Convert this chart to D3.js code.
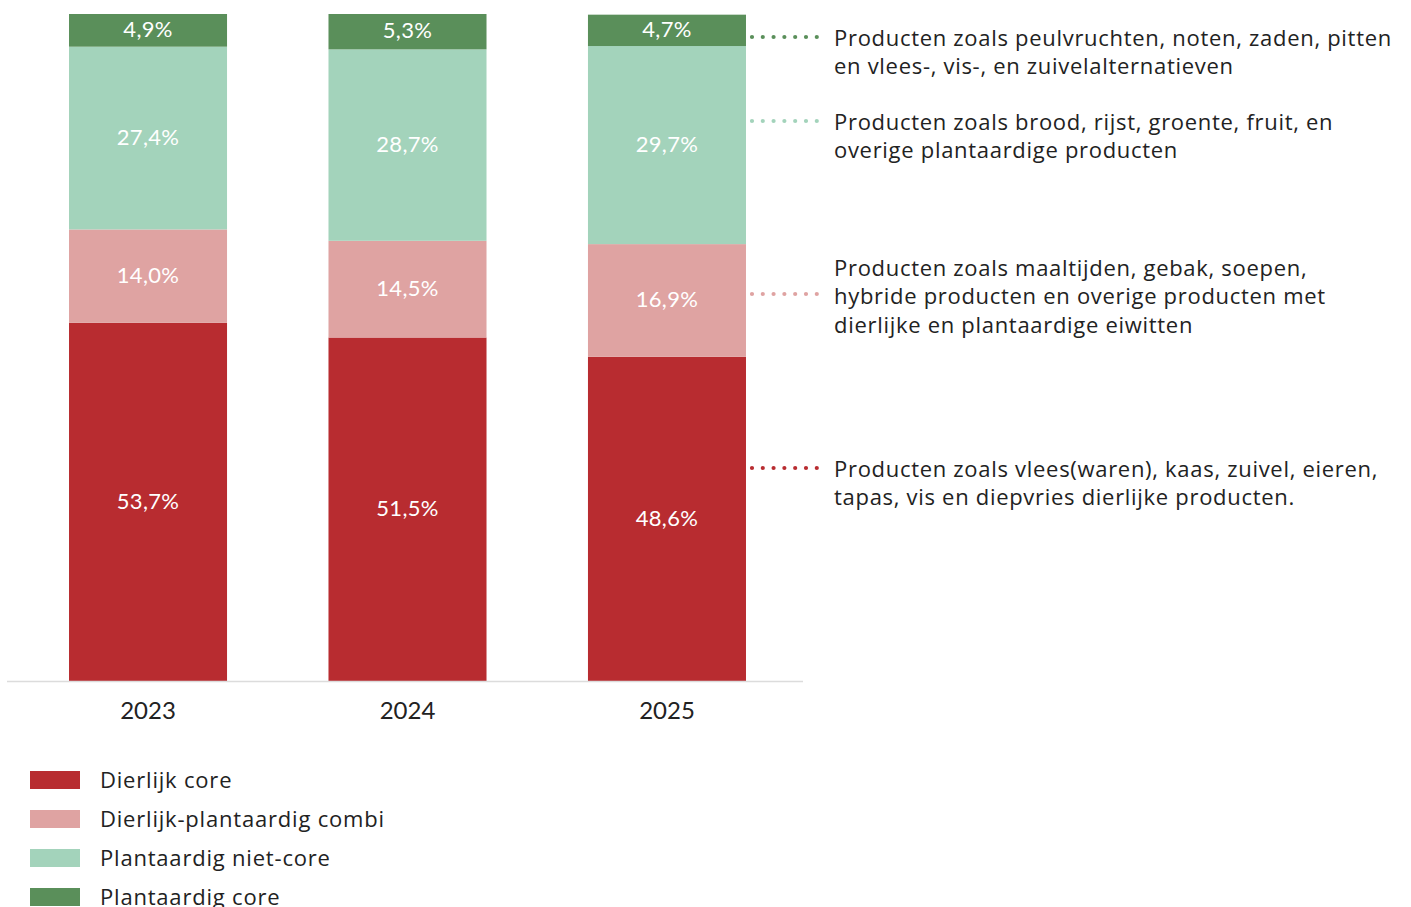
<!DOCTYPE html>
<html><head><meta charset="utf-8">
<script src="https://cdn.jsdelivr.net/npm/d3@7"></script>
<style>body{margin:0;background:#fff}svg{display:block}</style>
</head><body><svg id="c" width="1411" height="907"></svg>
<script>
const years = ["2023","2024","2025"];
const seriesNames = ["Dierlijk core","Dierlijk-plantaardig combi","Plantaardig niet-core","Plantaardig core"];
const dierlijkCore = [53.7,51.5,48.6];
const combi = [14.0,14.5,16.9];
const plantNietCore = [27.4,28.7,29.7];
const plantCore = [4.9,5.3,4.7];
const colors = ["#b82c30","#dfa3a2","#a3d3bb","#5a8f5a"];
const annotations = [
  ["Producten zoals vlees(waren), kaas, zuivel, eieren,","tapas, vis en diepvries dierlijke producten."],
  ["Producten zoals maaltijden, gebak, soepen,","hybride producten en overige producten met","dierlijke en plantaardige eiwitten"],
  ["Producten zoals brood, rijst, groente, fruit, en","overige plantaardige producten"],
  ["Producten zoals peulvruchten, noten, zaden, pitten","en vlees-, vis-, en zuivelalternatieven"]
];
const annotY = [468, 294, 121, 37];

const svg = d3.select("#c");
const font = "Lato, 'Open Sans', sans-serif";
const font2 = "'Open Sans', Lato, sans-serif";
const data = years.map((y,i)=>({year:y, v:[dierlijkCore[i],combi[i],plantNietCore[i],plantCore[i]]}));
const stack = d3.stack().keys([0,1,2,3]).value((d,k)=>d.v[k]);
const layers = stack(data);

const x = d3.scaleBand().domain(years).range([7,808]).paddingInner(0.391).paddingOuter(0.239);
const y = d3.scaleLinear().domain([0,100]).range([681,14]);

layers.forEach((layer,k)=>{
  const g = svg.append("g");
  g.selectAll("rect").data(layer).join("rect")
    .attr("x", d=>x(d.data.year)).attr("width", x.bandwidth())
    .attr("y", d=>y(d[1])).attr("height", d=>y(d[0])-y(d[1]))
    .attr("fill", colors[k]);
  g.selectAll("text").data(layer).join("text")
    .attr("x", d=>x(d.data.year)+x.bandwidth()/2)
    .attr("y", d=>(y(d[0])+y(d[1]))/2 - 1)
    .attr("dy","0.35em").attr("text-anchor","middle")
    .attr("font-family",font).attr("font-size",22).attr("letter-spacing",0.3).attr("fill","#fff")
    .text(d=>d.data.v[k].toFixed(1).replace(".",",")+"%");
});

svg.append("line").attr("x1",7).attr("x2",803).attr("y1",681.5).attr("y2",681.5)
  .attr("stroke","#dcdcdc").attr("stroke-width",1.5);

const xAxis = svg.append("g").attr("transform","translate(0,681)")
  .call(d3.axisBottom(x).tickSize(0).tickPadding(21));
xAxis.select(".domain").remove();
xAxis.selectAll("text").attr("font-family",font).attr("font-size",24).attr("fill","#222");

// annotations
const lastX = x("2025")+x.bandwidth();
annotations.forEach((lines,k)=>{
  svg.append("line").attr("x1",lastX+6).attr("x2",lastX+74).attr("y1",annotY[k]).attr("y2",annotY[k])
    .attr("stroke",colors[k]).attr("stroke-width",4.2).attr("stroke-linecap","round")
    .attr("stroke-dasharray","0 10.8");
  const firstY = k===1 ? annotY[k]-26 : annotY[k]+1;
  const t = svg.append("text").attr("font-family",font2).attr("font-size",22)
    .attr("letter-spacing",0.7).attr("fill","#222");
  lines.forEach((l,i)=>{
    t.append("tspan").attr("x",834).attr("y",firstY+i*28.7).attr("dy","0.35em").text(l);
  });
});

// legend
seriesNames.forEach((n,i)=>{
  const ly = 780 + i*39;
  svg.append("rect").attr("x",30).attr("y",ly-9).attr("width",50).attr("height",18).attr("fill",colors[i]);
  svg.append("text").attr("x",100).attr("y",ly).attr("dy","0.35em")
    .attr("font-family",font2).attr("font-size",22).attr("letter-spacing",0.8).attr("fill","#222").text(n);
});
</script></body></html>
